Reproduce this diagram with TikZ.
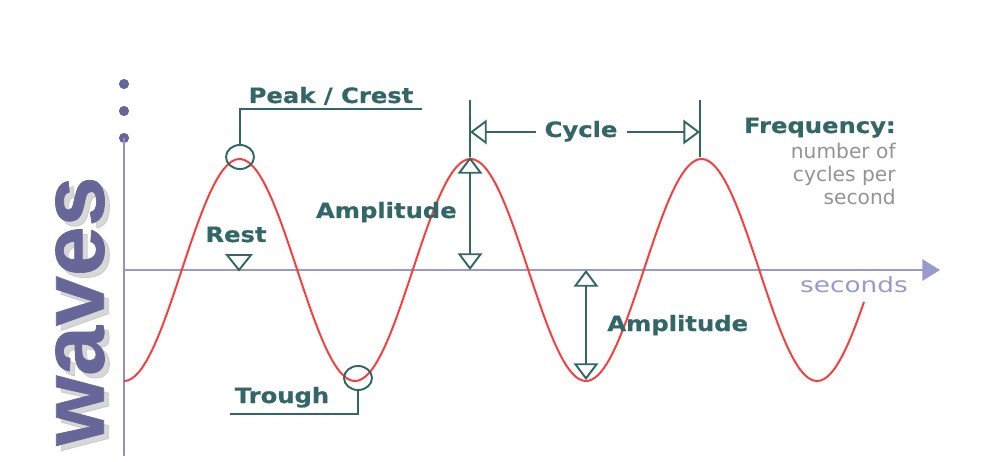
\documentclass[tikz,border=0pt]{standalone}
\usepackage{fontspec}
\setmainfont{DejaVu Sans}
\newfontfamily\labelfont[FakeStretch=1.15, FakeBold=0.6]{DejaVu Sans Bold}
\newfontfamily\axisfont[FakeStretch=1.25]{DejaVu Sans}
\newfontfamily\titlefont[FakeBold=0.8]{Liberation Sans Bold}
\usetikzlibrary{arrows.meta, positioning, shapes.geometric}
\definecolor{leadteal}{HTML}{336666}
\definecolor{wavered}{HTML}{FF3A3A}
\definecolor{axisblue}{HTML}{9999CC}
\definecolor{titleblue}{HTML}{666699}
\definecolor{notegray}{HTML}{939393}

\begin{document}
\begin{tikzpicture}[
  x=0.02cm, y=-0.02cm,
  lbl/.style={text=leadteal, font=\labelfont\fontsize{12}{13}\selectfont, inner sep=0pt},
  note/.style={text=notegray, font=\fontsize{11.5}{13}\selectfont, inner sep=0pt, align=right},
  lead/.style={draw=leadteal, line width=1.1pt},
  ring/.style={lead, ellipse, minimum width=0.56cm, minimum height=0.48cm, inner sep=0pt},
  dim/.style={lead, {Triangle[open, length=9.5pt, width=14pt]}-{Triangle[open, length=9.5pt, width=14pt]}},
  cyc/.style={lead, -{Triangle[open, length=9.5pt, width=14pt]}},
  axis/.style={draw=axisblue, line width=1.2pt}
]
\useasboundingbox (0,0) rectangle (996,462);

\foreach \y in {84,111,138} \fill[titleblue] (124,\y) circle [radius=2.9pt];
\coordinate (top) at (124,138);
\coordinate (bottom) at (124,456);
\coordinate (origin) at (124,270);
\coordinate (tip) at (940,270);
\draw[axis, draw=axisblue!85!titleblue] (top) -- (bottom);
\draw[axis, -{Triangle[length=10pt, width=12pt]}] (origin) -- (tip);
\node[text=axisblue, font=\axisfont\fontsize{12}{14}\selectfont, inner sep=0pt, anchor=base] (secs) at (854,293) {seconds};

\node[text=black!35, opacity=0.45, font=\titlefont\fontsize{51}{51}\selectfont, rotate=90] at (85,316) {waves};
\node[text=titleblue, font=\titlefont\fontsize{51}{51}\selectfont, rotate=90] (title) at (80,311) {waves};

\draw[wavered, line width=1.1pt] plot[domain=124:864, samples=240] (\x, {270+111*cos((\x-124)/231*360)});

\node[ring] (crest) at (240,157) {};
\coordinate (crestbend) at (240,109);
\coordinate (crestend) at (422,109);
\draw[lead] (crest.north) -- (crestbend) -- (crestend);
\node[lbl, anchor=base] (crestlbl) at (331,103) {Peak / Crest};

\node[ring] (trough) at (358,378) {};
\coordinate (troughbend) at (358,414);
\coordinate (troughend) at (230,414);
\draw[lead] (trough.south) -- (troughbend) -- (troughend);
\node[lbl, anchor=base] (troughlbl) at (282,403) {Trough};

\node[lbl, anchor=base] (restlbl) at (236,242) {Rest};
\coordinate (restpt) at (239,270);
\draw[lead, line join=miter] (restpt) -- ++(-12,-15) -- ++(24,0) -- cycle;

\coordinate (cyctop1) at (470,100);
\coordinate (crest2) at (470,157);
\coordinate (rest2) at (470,270);
\coordinate (cyctop2) at (700,100);
\coordinate (crest3) at (700,157);
\draw[lead] (cyctop1) -- (crest2);
\draw[lead] (cyctop2) -- (crest3);
\draw[dim] (crest2) -- (rest2);
\node[lbl, anchor=base east] (amp1) at (457,218) {Amplitude};

\node[lbl, anchor=base, inner xsep=5pt] (cycle) at (581,137) {Cycle};
\coordinate (cycleft) at (470,132);
\coordinate (cycright) at (700,132);
\draw[cyc] (cycle.west |- cycleft) -- (cycleft);
\draw[cyc] (cycle.east |- cycright) -- (cycright);

\coordinate (rest3) at (586,270);
\coordinate (trough3) at (586,380);
\draw[dim] (rest3) -- (trough3);
\node[lbl, anchor=base west] (amp2) at (607,331) {Amplitude};

\node[lbl, anchor=base east] (freq) at (896,133) {Frequency:};
\node[note, anchor=north east] (freqtxt) at (896,143) {number of\\cycles per\\second};
\end{tikzpicture}
\end{document}
